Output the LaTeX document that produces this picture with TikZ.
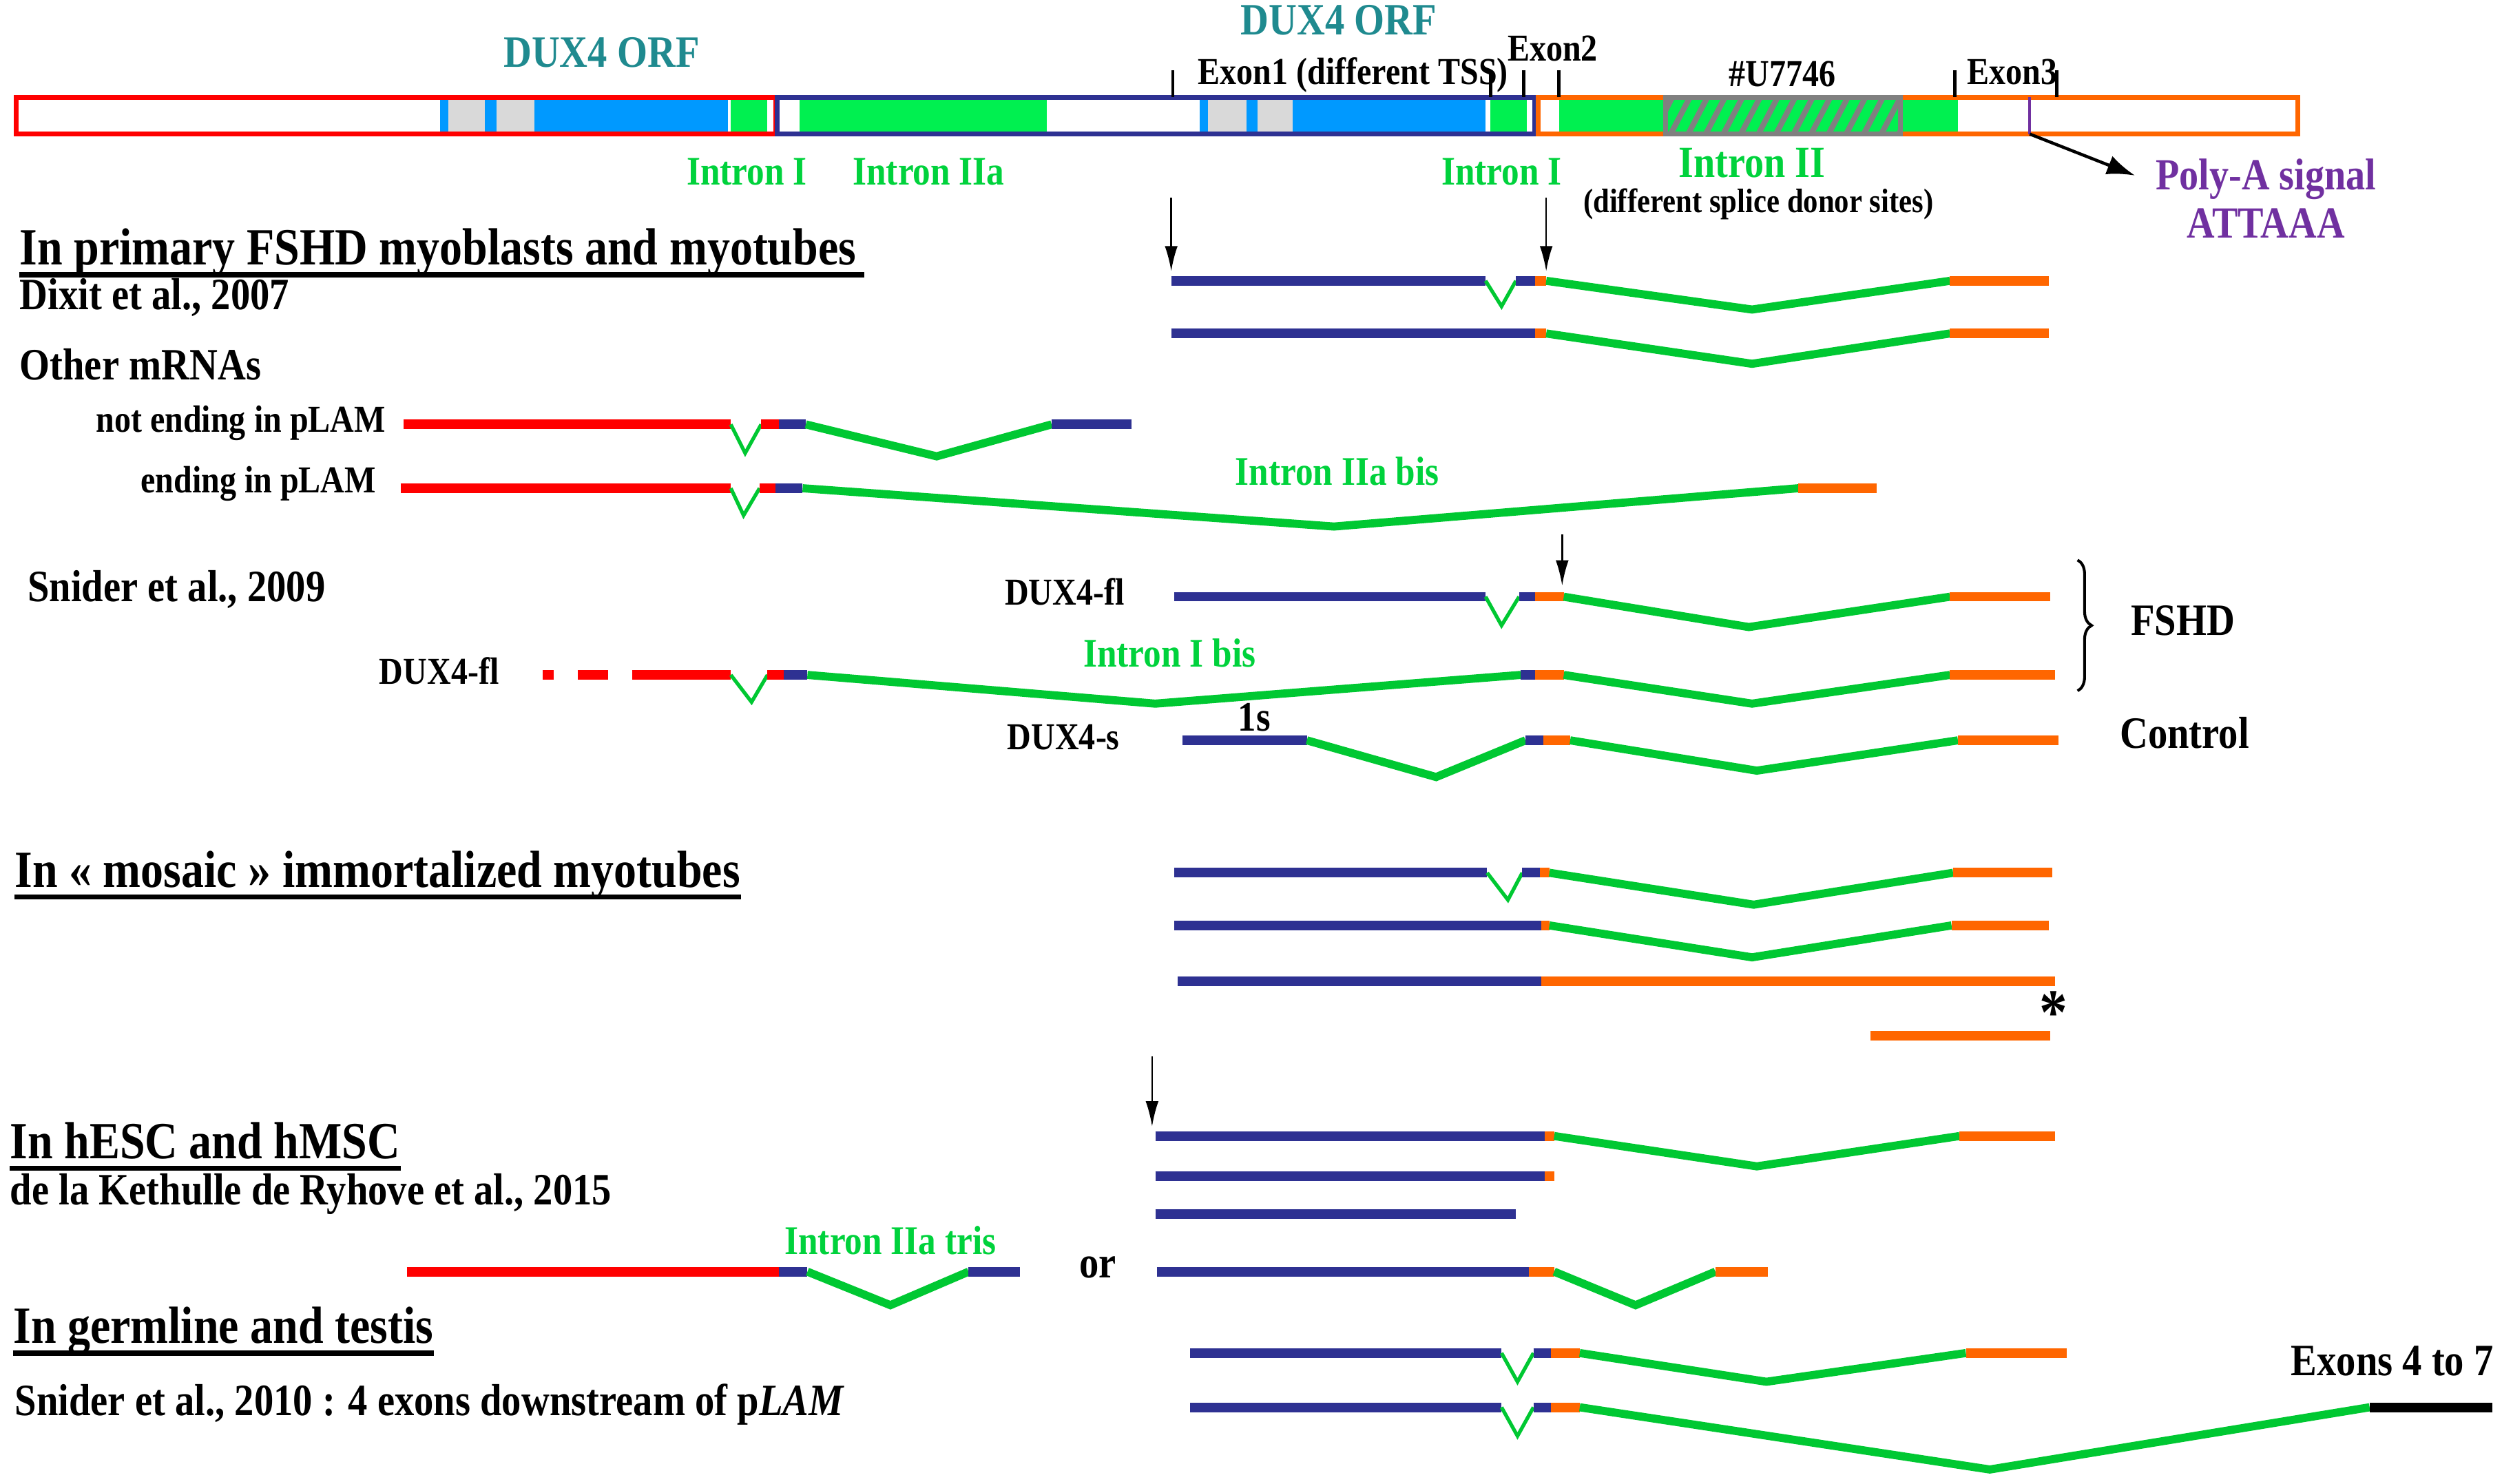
\documentclass[tikz,border=0pt]{standalone}
\usepackage{fontspec}
\setmainfont{Liberation Serif}
\usetikzlibrary{arrows.meta, decorations.pathreplacing}

\definecolor{navyx}{RGB}{46,49,146}
\definecolor{orangex}{RGB}{255,102,0}
\definecolor{orfblue}{RGB}{0,153,255}
\definecolor{greybar}{RGB}{217,217,217}
\definecolor{greenbar}{RGB}{0,240,80}
\definecolor{greenline}{RGB}{0,200,50}
\definecolor{greentxt}{RGB}{0,210,60}
\definecolor{tealx}{RGB}{31,138,143}
\definecolor{purplex}{RGB}{112,48,160}
\definecolor{hatchgrey}{RGB}{128,128,128}

\tikzset{
  txt/.style={inner sep=0pt, yscale=1.15},
  ttl/.style={txt, anchor=base west, font=\fontsize{16.2}{19}\selectfont\bfseries},
  cite/.style={txt, anchor=base west, font=\fontsize{13.9}{16}\selectfont\bfseries},
  sml/.style={txt, font=\fontsize{11.8}{14}\selectfont\bfseries},
  gtxt/.style={txt, text=greentxt, font=\fontsize{12.6}{15}\selectfont\bfseries},
  uline/.style={line width=1.9pt},
  box/.style={line width=1.7pt},
  tick/.style={line width=1.2pt},
  ex/.style={line width=3.4pt},
  exnavy/.style={ex, draw=navyx},
  exred/.style={ex, draw=red},
  exorange/.style={ex, draw=orangex},
  exblack/.style={ex, draw=black},
  intr/.style={draw=greenline, line width=2.9pt},
  vintr/.style={draw=greenline, line width=1.3pt},
  ptr/.style={-{Latex[length=9pt,width=4.6pt]}, line width=0.6pt}
}

\begin{document}
\begin{tikzpicture}[x=0.02cm, y=-0.02cm]
\useasboundingbox (0,0) rectangle (1568,930);

% genomic map
\fill[orfblue] (276,61) rectangle (456,84);
\fill[greybar] (281,61) rectangle (304,84);
\fill[greybar] (311,61) rectangle (335,84);
\fill[greenbar] (458,61) rectangle (481,84);
\fill[greenbar] (501,61) rectangle (656,84);
\fill[orfblue] (752,61) rectangle (931,84);
\fill[greybar] (757,61) rectangle (781,84);
\fill[greybar] (788,61) rectangle (810,84);
\fill[greenbar] (934,61) rectangle (957,84);
\fill[greenbar] (977,61) rectangle (1227,84);
\draw[box, red] (10,61) rectangle (486,84);
\draw[box, navyx] (487,61) rectangle (962,84);
\draw[box, orangex] (964,61) rectangle (1440,84);
\begin{scope}
  \clip (1044,61) rectangle (1191,84);
  \foreach \k in {1036,1047,...,1196}
    \draw[hatchgrey, line width=2pt] (\k,84) -- (\k+12,61);
\end{scope}
\draw[box, hatchgrey] (1044,61) rectangle (1191,84);
\draw[purplex, line width=0.9pt] (1272,61) -- (1272,84);

\foreach \t in {735,934,955,977,1225,1289}
  \draw[tick] (\t,44) -- (\t,61);

\node[txt, text=tealx, font=\fontsize{13.9}{16}\selectfont\bfseries] (orfa) at (377,42) [anchor=base] {DUX4 ORF};
\node[txt, text=tealx, font=\fontsize{13.9}{16}\selectfont\bfseries] (orfb) at (839,22) [anchor=base] {DUX4 ORF};
\node[sml, anchor=base] (exona) at (848,53) {Exon1 (different TSS)};
\node[sml, anchor=base] (exonb) at (973,38) {Exon2};
\node[sml, anchor=base] (u7746) at (1117,54) {\#U7746};
\node[sml, anchor=base] (exonc) at (1261,53) {Exon3};
\node[gtxt, anchor=base] (inta) at (468,116) {Intron I};
\node[gtxt, anchor=base] (intb) at (582,116) {Intron IIa};
\node[gtxt, anchor=base] (intc) at (941,116) {Intron I};
\node[gtxt, anchor=base, font=\fontsize{13.8}{16}\selectfont\bfseries] (intd) at (1098,111) {Intron II};
\node[sml, anchor=base, font=\fontsize{10.5}{12}\selectfont\bfseries] (donor) at (1102,133) {(different splice donor sites)};
\node[txt, text=purplex, anchor=base, font=\fontsize{13.8}{16}\selectfont\bfseries] (polya) at (1420,119) {Poly-A signal};
\node[txt, text=purplex, anchor=base, font=\fontsize{13.8}{16}\selectfont\bfseries] (attaaa) at (1420,149) {ATTAAA};
\coordinate (pa1) at (1272,84);
\coordinate (pa2) at (1338,110);
\draw[-{Latex[length=10pt,width=7pt]}, line width=1.1pt] (pa1) -- (pa2);

% primary FSHD myoblasts
\node[ttl] (tprim) at (12,166) {In primary FSHD myoblasts and myotubes\,};
\draw[uline] ([yshift=-3.5pt]tprim.base west) -- ([yshift=-3.5pt]tprim.base east);
\node[cite] (dixit) at (12,194) {Dixit et al., 2007};
\node[cite] (other) at (12,238) {Other mRNAs};
\node[sml, anchor=base east] (notend) at (242,271) {not ending in pLAM};
\node[sml, anchor=base east] (endp) at (236,309) {ending in pLAM};

\coordinate (a1s) at (734,124); \coordinate (a1e) at (734,170);
\coordinate (a2s) at (969,124); \coordinate (a2e) at (969,170);
\draw[ptr] (a1s) -- (a1e);
\draw[ptr] (a2s) -- (a2e);

\draw[exnavy] (734,176) -- (931,176);
\draw[vintr] (931,176) -- (941,192) -- (950,176);
\draw[exnavy] (950,176) -- (962,176);
\draw[exorange] (962,176) -- (969,176);
\draw[intr] (969,176) -- (1098,194) -- (1222,176);
\draw[exorange] (1222,176) -- (1284,176);

\draw[exnavy] (734,209) -- (962,209);
\draw[exorange] (962,209) -- (969,209);
\draw[intr] (969,209) -- (1098,228) -- (1222,209);
\draw[exorange] (1222,209) -- (1284,209);

\draw[exred] (253,266) -- (458,266);
\draw[vintr] (458,266) -- (467,284) -- (477,266);
\draw[exred] (477,266) -- (488,266);
\draw[exnavy] (488,266) -- (505,266);
\draw[intr] (505,266) -- (587,286) -- (659,266);
\draw[exnavy] (659,266) -- (709,266);

\draw[exred] (251,306) -- (458,306);
\draw[vintr] (458,306) -- (466,323) -- (476,306);
\draw[exred] (476,306) -- (486,306);
\draw[exnavy] (486,306) -- (503,306);
\draw[intr] (503,306) -- (836,330) -- (1127,306);
\draw[exorange] (1127,306) -- (1176,306);
\node[gtxt, anchor=base] (iiabis) at (838,304) {Intron IIa bis};

% Snider 2009
\node[cite] (snider9) at (17,377) {Snider et al., 2009};
\node[sml, anchor=base east] (fla) at (705,379) {DUX4-fl};
\node[sml, anchor=base east] (flb) at (313,429) {DUX4-fl};
\node[sml, anchor=base east] (dsh) at (702,470) {DUX4-s};
\node[gtxt, anchor=base] (ibis) at (733,418) {Intron I bis};
\node[sml, anchor=base, font=\fontsize{13}{15}\selectfont\bfseries] (ones) at (786,458) {1s};
\node[cite, anchor=base] (fshd) at (1368,398) {FSHD};
\node[cite, anchor=base] (ctrl) at (1369,469) {Control};
\coordinate (a3s) at (979,335); \coordinate (a3e) at (979,367);
\draw[ptr] (a3s) -- (a3e);
\coordinate (bra) at (1302,351); \coordinate (brb) at (1302,433);
\draw[line width=1pt, decorate, decoration={brace, amplitude=5pt}] (bra) -- (brb);

\draw[exnavy] (736,374) -- (931,374);
\draw[vintr] (931,374) -- (941,392) -- (952,374);
\draw[exnavy] (952,374) -- (962,374);
\draw[exorange] (962,374) -- (980,374);
\draw[intr] (980,374) -- (1096,393) -- (1222,374);
\draw[exorange] (1222,374) -- (1285,374);

\draw[exred] (340,423) -- (347,423);
\draw[exred] (362,423) -- (381,423);
\draw[exred] (396,423) -- (458,423);
\draw[vintr] (458,423) -- (471,440) -- (481,423);
\draw[exred] (481,423) -- (491,423);
\draw[exnavy] (491,423) -- (506,423);
\draw[intr] (506,423) -- (724,441) -- (953,423);
\draw[exnavy] (953,423) -- (962,423);
\draw[exorange] (962,423) -- (980,423);
\draw[intr] (980,423) -- (1098,441) -- (1222,423);
\draw[exorange] (1222,423) -- (1288,423);

\draw[exnavy] (741,464) -- (819,464);
\draw[intr] (819,464) -- (900,487) -- (956,464);
\draw[exnavy] (956,464) -- (967,464);
\draw[exorange] (967,464) -- (984,464);
\draw[intr] (984,464) -- (1101,483) -- (1227,464);
\draw[exorange] (1227,464) -- (1290,464);

% mosaic immortalized myotubes
\node[ttl] (tmos) at (9,556) {In « mosaic » immortalized myotubes};
\draw[uline] ([yshift=-3.5pt]tmos.base west) -- ([yshift=-3.5pt]tmos.base east);

\draw[exnavy] (736,547) -- (932,547);
\draw[vintr] (932,547) -- (945,564) -- (954,547);
\draw[exnavy] (954,547) -- (965,547);
\draw[exorange] (965,547) -- (971,547);
\draw[intr] (971,547) -- (1099,567) -- (1224,547);
\draw[exorange] (1224,547) -- (1286,547);

\draw[exnavy] (736,580) -- (966,580);
\draw[exorange] (966,580) -- (971,580);
\draw[intr] (971,580) -- (1098,600) -- (1223,580);
\draw[exorange] (1223,580) -- (1284,580);

\draw[exnavy] (738,615) -- (966,615);
\draw[exorange] (966,615) -- (1288,615);
\draw[exorange] (1172,649) -- (1285,649);
\node[cite, anchor=base, font=\fontsize{20}{22}\selectfont\bfseries] (star) at (1287,648) {*};

% hESC and hMSC
\node[ttl] (thesc) at (6,726) {In hESC and hMSC};
\draw[uline] ([yshift=-3.5pt]thesc.base west) -- ([yshift=-3.5pt]thesc.base east);
\node[cite] (kethulle) at (6,755) {de la Kethulle de Ryhove et al., 2015};
\node[gtxt, anchor=base] (iiatris) at (558,786) {Intron IIa tris};
\node[cite, anchor=base] (orw) at (688,801) {or};
\coordinate (a4s) at (722,662); \coordinate (a4e) at (722,706);
\draw[ptr] (a4s) -- (a4e);

\draw[exnavy] (724,712) -- (968,712);
\draw[exorange] (968,712) -- (974,712);
\draw[intr] (974,712) -- (1101,731) -- (1228,712);
\draw[exorange] (1228,712) -- (1288,712);

\draw[exnavy] (724,737) -- (968,737);
\draw[exorange] (968,737) -- (974,737);
\draw[exnavy] (724,761) -- (950,761);

\draw[exred] (255,797) -- (488,797);
\draw[exnavy] (488,797) -- (506,797);
\draw[intr] (506,797) -- (558,818) -- (607,797);
\draw[exnavy] (607,797) -- (639,797);
\draw[exnavy] (725,797) -- (958,797);
\draw[exorange] (958,797) -- (974,797);
\draw[intr] (974,797) -- (1025,818) -- (1075,797);
\draw[exorange] (1075,797) -- (1108,797);

% germline and testis
\node[ttl] (tgerm) at (8,842) {In germline and testis};
\draw[uline] ([yshift=-3.5pt]tgerm.base west) -- ([yshift=-3.5pt]tgerm.base east);
\node[cite] (snider10) at (9,887) {Snider et al., 2010 : 4 exons downstream of p\textit{LAM}};
\node[cite, anchor=base east] (ex47) at (1563,862) {Exons 4 to 7};

\draw[exnavy] (746,848) -- (941,848);
\draw[vintr] (941,848) -- (951,866) -- (961,848);
\draw[exnavy] (961,848) -- (972,848);
\draw[exorange] (972,848) -- (990,848);
\draw[intr] (990,848) -- (1107,866) -- (1232,848);
\draw[exorange] (1232,848) -- (1295,848);

\draw[exnavy] (746,882) -- (941,882);
\draw[vintr] (941,882) -- (951,900) -- (961,882);
\draw[exnavy] (961,882) -- (972,882);
\draw[exorange] (972,882) -- (990,882);
\draw[intr] (990,882) -- (1247,921) -- (1485,882);
\draw[exblack] (1485,882) -- (1562,882);

\end{tikzpicture}
\end{document}
